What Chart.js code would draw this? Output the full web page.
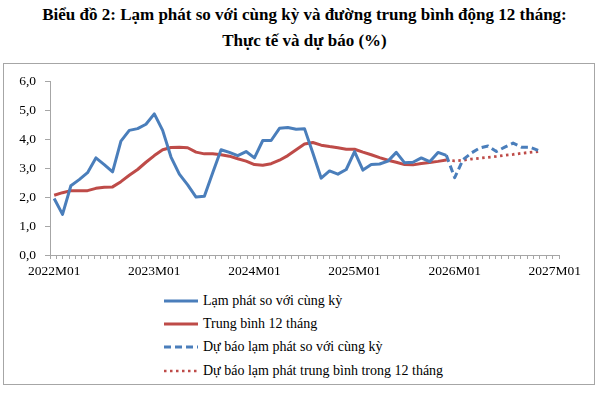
<!DOCTYPE html>
<html>
<head>
<meta charset="utf-8">
<script src="https://cdn.jsdelivr.net/npm/chart.js@4"></script>
<style>
  body { margin: 0; width: 609px; height: 395px; background: #fff; position: relative; overflow: hidden;
         font-family: "Liberation Serif", "Times New Roman", serif; }
  .title { position: absolute; left: 0; width: 609px; text-align: center; font-weight: bold; font-size: 17px; color: #000; }
  #box { position: absolute; left: 3px; top: 63px; width: 590px; height: 320px; border: 1px solid #a6a6a6; }
  #chartWrap { position: absolute; left: 0; top: 0; width: 591px; height: 222px; }
  #legend { position: absolute; left: 158px; top: 225px; }
  .row { height: 23.4px; display: flex; align-items: center; font-size: 14px; color: #000; white-space: nowrap; }
  .row svg { margin-right: 5px; }
</style>
</head>
<body>
<div class="title" style="top:5px">Biểu đồ 2: Lạm phát so với cùng kỳ và đường trung bình động 12 tháng:</div>
<div class="title" style="top:31px">Thực tế và dự báo (%)</div>
<div id="box">
  <div id="chartWrap"><canvas id="chart"></canvas></div>
  <div id="legend"></div>
</div>
<script>
"use strict";

/* ---------- data (month index 0 = 2022M01) ---------- */

const xTickLabels = ["2022M01", "2023M01", "2024M01", "2025M01", "2026M01", "2027M01"];
const xTickStep = 12;            // one label per year
const monthCount = 61;           // 2022M01 .. 2027M01 on the axis
const minorTickCount = 80;       // small tick marks along the bottom axis

// Lạm phát so với cùng kỳ, 2022M01 .. 2025M12
const inflationActual = [
  1.95, 1.40, 2.39, 2.60, 2.84, 3.35, 3.12, 2.87, 3.93, 4.30, 4.36, 4.51,
  4.87, 4.30, 3.38, 2.79, 2.42, 2.00, 2.03, 2.84, 3.63, 3.54, 3.43, 3.57,
  3.35, 3.95, 3.95, 4.37, 4.40, 4.34, 4.36, 3.52, 2.65, 2.90, 2.79, 2.95,
  3.57, 2.93, 3.12, 3.14, 3.24, 3.54, 3.18, 3.20, 3.35, 3.22, 3.54, 3.44
];

// Trung bình 12 tháng, 2022M01 .. 2025M12
const averageActual = [
  2.06, 2.15, 2.22, 2.22, 2.22, 2.30, 2.34, 2.35, 2.53, 2.75, 2.95, 3.20,
  3.43, 3.63, 3.71, 3.72, 3.70, 3.55, 3.49, 3.49, 3.46, 3.41, 3.32, 3.24,
  3.12, 3.10, 3.15, 3.27, 3.43, 3.63, 3.83, 3.88, 3.79, 3.74, 3.70, 3.65,
  3.65, 3.55, 3.46, 3.36, 3.27, 3.20, 3.12, 3.11, 3.16, 3.19, 3.23, 3.28
];

// forecasts start from the last actual month (2025M12)
const forecastStart = 47;
const inflationForecast = [3.44, 2.67, 3.29, 3.52, 3.69, 3.76, 3.57, 3.72, 3.86, 3.72, 3.72, 3.61];
const averageForecast   = [3.28, 3.25, 3.27, 3.31, 3.34, 3.37, 3.40, 3.44, 3.47, 3.51, 3.54, 3.57];

const seriesNames = [
  "Lạm phát so với cùng kỳ",
  "Trung bình 12 tháng",
  "Dự báo lạm phát so với cùng kỳ",
  "Dự báo lạm phát trung bình trong 12 tháng"
];

/* ---------- styling ---------- */

const BLUE = "#4a7ebb";
const RED = "#be4b48";
const AXIS = "#a6a6a6";
const FONT = { family: "'Liberation Serif', 'Times New Roman', serif", size: 13.5 };

const seriesStyles = [
  { color: BLUE, dash: [] },
  { color: RED, dash: [] },
  { color: BLUE, dash: [7, 4] },
  { color: RED, dash: [2.5, 3.5] }
];

function toPoints(values, offset) {
  return values.map((v, i) => ({ x: i + offset, y: v }));
}

function makeDataset(idx, values, offset) {
  const st = seriesStyles[idx];
  return {
    label: seriesNames[idx],
    data: toPoints(values, offset),
    borderColor: st.color,
    backgroundColor: st.color,
    borderWidth: idx === 3 ? 2.8 : 3,
    borderDash: st.dash,
    borderJoinStyle: "round",
    pointRadius: 0,
    tension: 0
  };
}

/* ---------- chart ---------- */

const labelValues = xTickLabels.map((_, i) => i * xTickStep);

new Chart(document.getElementById("chart"), {
  type: "line",
  data: {
    datasets: [
      makeDataset(0, inflationActual, 0),
      makeDataset(1, averageActual, 0),
      makeDataset(2, inflationForecast, forecastStart),
      makeDataset(3, averageForecast, forecastStart)
    ]
  },
  options: {
    responsive: true,
    maintainAspectRatio: false,
    animation: false,
    layout: { padding: { top: 14, right: 36, left: 0, bottom: 0 } },
    plugins: { legend: { display: false }, tooltip: { enabled: false } },
    scales: {
      x: {
        type: "linear",
        min: -0.5,
        max: monthCount - 0.5,
        afterBuildTicks: scale => {
          const marks = [];
          for (let k = 0; k <= minorTickCount; k++) {
            marks.push({ value: -0.5 + k * monthCount / minorTickCount });
          }
          scale.ticks = marks.concat(labelValues.map(v => ({ value: v, isLabel: true })));
        },
        afterFit: scale => { scale.height = 31; },
        ticks: {
          autoSkip: false,
          maxRotation: 0,
          padding: 4,
          color: "#000",
          font: FONT,
          callback: (value, i, ticks) => ticks[i].isLabel ? xTickLabels[value / xTickStep] : ""
        },
        grid: {
          drawOnChartArea: false,
          tickLength: 4,
          tickColor: ctx => (ctx.tick && ctx.tick.isLabel) ? "rgba(0,0,0,0)" : AXIS
        },
        border: { color: AXIS, width: 1 }
      },
      y: {
        min: 0,
        max: 6,
        afterFit: scale => { scale.width = 46; },
        ticks: {
          stepSize: 1,
          padding: 9,
          color: "#000",
          font: FONT,
          callback: v => v.toFixed(1).replace(".", ",")
        },
        grid: { drawOnChartArea: false, tickLength: 5, tickColor: AXIS },
        border: { color: AXIS, width: 1 }
      }
    }
  }
});

/* ---------- legend ---------- */

const legendEl = document.getElementById("legend");
seriesNames.forEach((name, i) => {
  const st = seriesStyles[i];
  const row = document.createElement("div");
  row.className = "row";
  row.innerHTML =
    '<svg width="36" height="6"><line x1="2" y1="3" x2="36" y2="3" stroke="' + st.color +
    '" stroke-width="' + (i === 3 ? 2.5 : 3) + '" stroke-dasharray="' +
    (i === 2 ? "7,4" : i === 3 ? "2.5,3.5" : "none") + '"/></svg><span>' + name + "</span>";
  legendEl.appendChild(row);
});
</script>
</body>
</html>
